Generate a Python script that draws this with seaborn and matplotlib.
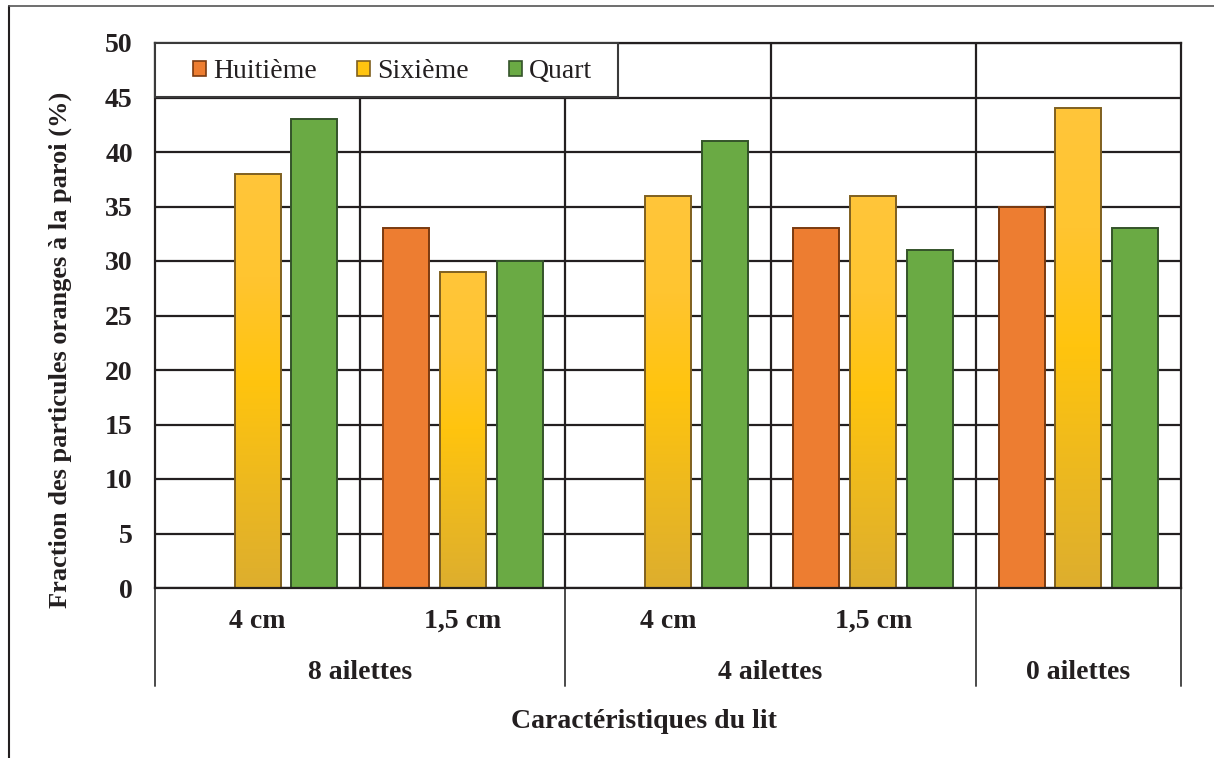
import numpy as np
import pandas as pd
import matplotlib
matplotlib.use("Agg")
import matplotlib.pyplot as plt
import matplotlib.transforms as mtransforms
from matplotlib.colors import LinearSegmentedColormap
from matplotlib.patches import Patch, Rectangle
import seaborn as sns

# Données
groupes = ["8 ailettes", "8 ailettes", "4 ailettes", "4 ailettes", "0 ailettes"]
tailles = ["4 cm", "1,5 cm", "4 cm", "1,5 cm", ""]
series = ["Huitième", "Sixième", "Quart"]
huitieme = [np.nan, 33, np.nan, 33, 35]
sixieme = [38, 29, 36, 36, 44]
quart = [43, 30, 41, 31, 33]

couleurs = {"Huitième": "#ED7D31", "Sixième": "#FFC410", "Quart": "#6AAA44"}
bords = {"Huitième": "#7A3A10", "Sixième": "#7F6020", "Quart": "#34532A"}

cles = [f"{g} | {t}" for g, t in zip(groupes, tailles)]
rows = []
for nom, vals in zip(series, [huitieme, sixieme, quart]):
    for k, v in zip(cles, vals):
        if not np.isnan(v):
            rows.append({"config": k, "serie": nom, "valeur": v})
df = pd.DataFrame(rows)

sns.set_style("white")
plt.rcParams["font.family"] = ["Liberation Serif", "DejaVu Serif"]
NOIR = "#231F20"
FS = 20

W, H = 1214, 758
fig = plt.figure(figsize=(W / 100, H / 100), dpi=100)
ax = fig.add_axes([155 / W, 1 - 588 / H, (1181 - 155) / W, (588 - 43) / H])

sns.barplot(data=df, x="config", y="valeur", hue="serie", order=cles,
            hue_order=series, palette=couleurs, width=0.83, gap=0.19,
            errorbar=None, legend=False, ax=ax, saturation=1, zorder=2)

# bordures et dégradé des barres "Sixième"
grad = LinearSegmentedColormap.from_list(
    "six", ["#DDAE2E", "#EDB91F", "#FFC40E", "#FFC530", "#FFC63A"])
for cont, nom in zip(ax.containers, series):
    for p in cont:
        p.set_edgecolor(bords[nom])
        p.set_linewidth(1.4)
        if nom == "Sixième":
            x0, y0 = p.get_x(), p.get_y()
            w, h = p.get_width(), p.get_height()
            if np.isnan(h) or h == 0:
                continue
            img = ax.imshow(np.linspace(0, 1, 256).reshape(-1, 1), cmap=grad,
                            origin="lower", aspect="auto",
                            extent=[x0, x0 + w, y0, y0 + h], zorder=1.9)
            img.set_clip_path(p)
            p.set_facecolor("none")

ax.set_xlim(-0.5, len(cles) - 0.5)
ax.set_ylim(0, 50)
ax.set_yticks(np.arange(0, 51, 5))
ax.set_axisbelow(True)
ax.yaxis.grid(True, color=NOIR, linewidth=1.6)
for xv in np.arange(0.5, len(cles) - 0.5, 1):
    ax.axvline(xv, color=NOIR, linewidth=1.6, zorder=0.5)
for s in ax.spines.values():
    s.set_visible(True)
    s.set_color(NOIR)
    s.set_linewidth(1.6)

ax.tick_params(axis="both", length=0, labelsize=FS, colors=NOIR)
ax.tick_params(axis="y", pad=16)
ax.tick_params(axis="x", pad=15)
ax.set_xticks(range(len(cles)))
ax.set_xticklabels(tailles, fontweight="bold")
for lab in ax.get_yticklabels():
    lab.set_fontweight("bold")

# étiquettes de groupe et séparateurs sous l'axe
trans = mtransforms.blended_transform_factory(ax.transData, ax.transAxes)
bornes = [-0.5]
debut = 0
for i in range(1, len(groupes) + 1):
    if i == len(groupes) or groupes[i] != groupes[debut]:
        ax.text((debut + i - 1) / 2, -0.155, groupes[debut], transform=trans,
                ha="center", va="center", fontsize=FS, fontweight="bold",
                color=NOIR)
        bornes.append(i - 0.5)
        debut = i
for b in bornes:
    ax.plot([b, b], [0, -0.180], transform=trans, color="#4a4a4a",
            linewidth=1.4, clip_on=False)

ax.set_xlabel("")
fig.text(644 / W, 1 - 722 / H, "Caractéristiques du lit",
         ha="center", va="center", fontsize=FS, fontweight="bold", color=NOIR)
ax.set_ylabel("Fraction des particules oranges à la paroi (%)", fontsize=19,
              fontweight="bold", color=NOIR, va="center")
ax.yaxis.set_label_coords((60 - 155) / 1026, (588 - 350) / 545)

# légende : cadre blanc en haut à gauche
ax.add_patch(Rectangle((0, (588 - 97) / 545), (618 - 155) / 1026, 54 / 545,
                       transform=ax.transAxes, facecolor="white",
                       edgecolor="#3a3a3a", linewidth=1.5, zorder=4,
                       clip_on=False))
handles = [Patch(facecolor=couleurs[n], edgecolor=bords[n], linewidth=1.2,
                 label=n) for n in series]
leg = ax.legend(handles=handles, loc="center left",
                bbox_to_anchor=((193 - 155) / 1026, (588 - 72) / 545),
                ncol=3, fontsize=FS, frameon=False, borderaxespad=0,
                borderpad=0, handlelength=0.47, handleheight=0.47,
                handletextpad=0.25, columnspacing=1.45)
for t in leg.get_texts():
    t.set_color(NOIR)
leg.set_zorder(5)

# cadre de la figure
fig.add_artist(plt.Line2D([9 / W, 9 / W], [0, 1 - 6 / H],
                          transform=fig.transFigure, color=NOIR, linewidth=1.5))
fig.add_artist(plt.Line2D([9 / W, 1], [1 - 6 / H, 1 - 6 / H],
                          transform=fig.transFigure, color="#555555", linewidth=1.2))

fig.savefig("out.png", dpi=100)
